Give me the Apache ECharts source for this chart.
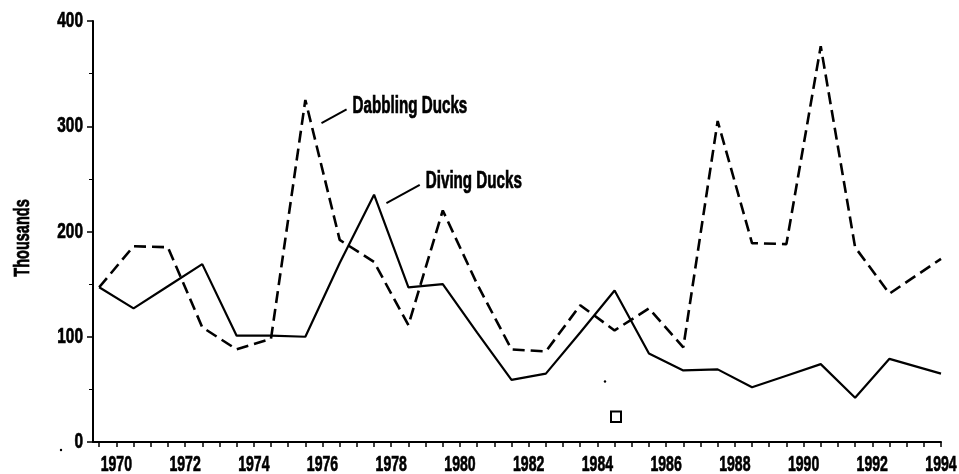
<!DOCTYPE html>
<html>
<head>
<meta charset="utf-8">
<title>Dabbling and Diving Ducks</title>
<script src="https://cdn.jsdelivr.net/npm/echarts@6/dist/echarts.min.js"></script>
<style>
  html, body { margin: 0; padding: 0; background: #fff; }
  #chart { width: 959px; height: 474px; }
</style>
</head>
<body>
<div id="chart"></div>
<script>
// Survey points are plotted at mid-season; the final count sits on the 1994 mark.
const seasonPositions = [1969.5, 1970.5, 1971.5, 1972.5, 1973.5, 1974.5, 1975.5, 1976.5,
  1977.5, 1978.5, 1979.5, 1980.5, 1981.5, 1982.5, 1983.5, 1984.5, 1985.5, 1986.5,
  1987.5, 1988.5, 1989.5, 1990.5, 1991.5, 1992.5, 1994];

// Thousands of birds
const dabblingDucks = [147, 186, 185, 109, 88, 98, 325, 192, 171, 111, 220, 150, 88, 86,
  130, 106, 127, 90, 305, 189, 188, 376, 185, 141, 174];
const divingDucks = [147, 127, 148, 169, 101, 101, 100, 170, 235, 147, 150, 104, 59, 65,
  104, 144, 84, 68, 69, 52, 63, 74, 42, 79, 65];

const yearLabels = [1970, 1972, 1974, 1976, 1978, 1980, 1982, 1984, 1986, 1988, 1990, 1992, 1994];
const valueTicks = [0, 100, 200, 300, 400];

// half-year tick marks along the time axis
const halfYearTicks = [];
for (let t = 1969.5; t <= 1994; t += 0.5) halfYearTicks.push(t);

// Condensed bold lettering: a bold sans squeezed horizontally
const FONT = '"Liberation Sans", Arial, sans-serif';
const INK = '#000';

const chart = echarts.init(document.getElementById('chart'), null, { renderer: 'canvas' });

const pairs = (ys) => ys.map((v, i) => [seasonPositions[i], v]);

chart.setOption({
  animation: false,
  backgroundColor: '#fff',
  grid: { left: 93, right: 18, top: 21, bottom: 32, containLabel: false, outerBoundsMode: 'none' },
  xAxis: {
    type: 'value',
    min: 1969.32,
    max: 1994,
    axisLine: { lineStyle: { color: INK, width: 2 } },
    axisTick: { customValues: halfYearTicks, length: 5, lineStyle: { color: INK, width: 1.5 } },
    axisLabel: { show: false },
    splitLine: { show: false }
  },
  yAxis: {
    type: 'value',
    min: 0,
    max: 400,
    interval: 100,
    axisLine: { show: true, lineStyle: { color: INK, width: 2 } },
    axisTick: { show: true, length: 6, lineStyle: { color: INK, width: 1.5 } },
    minorTick: { show: true, splitNumber: 2, length: 4, lineStyle: { color: INK, width: 1 } },
    axisLabel: { show: false },
    splitLine: { show: false }
  },
  series: [
    {
      name: 'Dabbling Ducks',
      type: 'line',
      data: pairs(dabblingDucks),
      symbol: 'none',
      lineStyle: { color: INK, width: 2.6, type: [12, 6] }
    },
    {
      name: 'Diving Ducks',
      type: 'line',
      data: pairs(divingDucks),
      symbol: 'none',
      lineStyle: { color: INK, width: 2.2 }
    }
  ]
});

const graphics = [];

function condensedText(x, y, text, size, squeeze, align, rotation) {
  return {
    type: 'text',
    x: x, y: y,
    scaleX: squeeze,
    rotation: rotation || 0,
    style: {
      text: text, fill: INK, stroke: INK, lineWidth: 0.7,
      font: 'bold ' + size + 'px ' + FONT,
      textAlign: align, textVerticalAlign: 'middle'
    }
  };
}

// Tick labels, placed with the axes' own scales
const axisBottom = chart.convertToPixel({ yAxisIndex: 0 }, 0);
yearLabels.forEach((yr) => {
  const px = chart.convertToPixel({ xAxisIndex: 0 }, yr);
  graphics.push(condensedText(px, axisBottom + 23, String(yr), 22, 0.64, 'center'));
});
const axisLeft = chart.convertToPixel({ xAxisIndex: 0 }, 1969.32);
valueTicks.forEach((v) => {
  const py = chart.convertToPixel({ yAxisIndex: 0 }, v);
  graphics.push(condensedText(axisLeft - 10, py, String(v), 22, 0.7, 'right'));
});

// Series callouts: a short leader from the line to its name, anchored in data space
const callouts = [
  { text: 'Dabbling Ducks', from: [1975.97, 303], to: [1976.7, 316] },
  { text: 'Diving Ducks', from: [1977.86, 227], to: [1978.83, 244.4] }
];
callouts.forEach((c) => {
  const a = chart.convertToPixel({ gridIndex: 0 }, c.from);
  const b = chart.convertToPixel({ gridIndex: 0 }, c.to);
  graphics.push({
    type: 'line',
    shape: { x1: a[0], y1: a[1], x2: b[0], y2: b[1] },
    style: { stroke: INK, lineWidth: 2 }
  });
  graphics.push(condensedText(b[0] + 6, b[1] - 3, c.text, 23, 0.66, 'left'));
});

// Axis title
graphics.push(condensedText(23, 238, 'Thousands', 22, 0.66, 'center', Math.PI / 2));

// small marks printed in the plot area
graphics.push({
  type: 'rect',
  shape: { x: 611, y: 411.5, width: 10, height: 10.5 },
  style: { fill: 'none', stroke: INK, lineWidth: 2 }
});
graphics.push({ type: 'circle', shape: { cx: 605, cy: 381.5, r: 1.2 }, style: { fill: INK } });
graphics.push({ type: 'circle', shape: { cx: 61, cy: 450, r: 1.2 }, style: { fill: INK } });

chart.setOption({ graphic: graphics });
</script>
</body>
</html>
